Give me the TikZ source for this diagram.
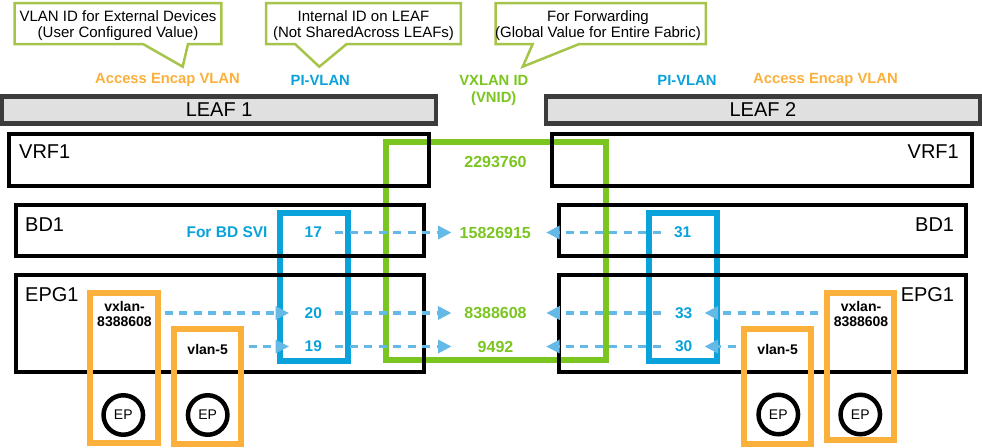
\documentclass[tikz,border=0pt]{standalone}
\usepackage{fontspec}
\setmainfont{Liberation Sans}
\usetikzlibrary{arrows.meta,calc}
\definecolor{cOrange}{HTML}{FBB03B}
\definecolor{cBlue}{HTML}{0AA2DA}
\definecolor{cGreen}{HTML}{7AC520}
\definecolor{cArrow}{HTML}{64B9E7}
\definecolor{cCall}{HTML}{A6C44A}
\definecolor{cLeafFill}{HTML}{E0E0E0}
\definecolor{cLeafLine}{HTML}{3C3C3C}
\newcommand\myfs[1]{\fontsize{#1pt}{#1pt}\selectfont}
\tikzset{
  leafbar/.style={draw=cLeafLine, fill=cLeafFill, line width=4.5pt, inner sep=0pt, font=\myfs{20}},
  blk/.style={draw=black, line width=4pt, inner sep=0pt},
  gbox/.style={draw=cGreen, line width=6pt, inner sep=0pt},
  bbox/.style={draw=cBlue, line width=6pt, inner sep=0pt},
  obox/.style={draw=cOrange, line width=6pt, inner sep=0pt},
  epnode/.style={circle, draw=black, line width=4.5pt, fill=white, minimum size=39.5pt, inner sep=0pt, font=\myfs{14}},
  callout/.style={draw=cCall, line width=2.5pt, fill=white, line join=miter},
  calltext/.style={align=center, font=\fontsize{15pt}{16.6pt}\selectfont, inner sep=0pt},
  toplab/.style={font=\bfseries\myfs{14.8}, inner sep=0pt},
  lbl/.style={font=\myfs{20}, inner sep=0pt},
  numB/.style={text=cBlue, font=\bfseries\myfs{15.5}, inner sep=0pt},
  numG/.style={text=cGreen, font=\bfseries\myfs{16}, inner sep=0pt},
  otext/.style={font=\bfseries\fontsize{14pt}{15pt}\selectfont, inner sep=0pt, align=center},
  arr/.style={draw=cArrow, line width=3.3pt, dash pattern=on 8pt off 6.5pt, -{Triangle[length=13.5pt 0 0,width=13pt 0 0]}}
}
\begin{document}
\begin{tikzpicture}[x=1pt,y=-1pt]
\useasboundingbox (0,0) rectangle (982,447);

% callouts
\draw[callout] (14.7,3) -- (221.3,3) -- (221.3,44) -- (188,44) -- (182.7,66.7) -- (143,44) -- (14.7,44) -- cycle;
\node[calltext, anchor=north] (c1) at (118,10.3) {VLAN ID for External Devices\\(User Configured Value)};
\draw[callout] (266.2,3) -- (460.8,3) -- (460.8,44) -- (346.7,44) -- (319.3,66.7) -- (295,44) -- (266.2,44) -- cycle;
\node[calltext, anchor=north] (c2) at (363.5,10.3) {Internal ID on LEAF\\(Not SharedAcross LEAFs)};
\draw[callout] (495.5,3) -- (705.8,3) -- (705.8,44) -- (579.3,44) -- (522.7,66.7) -- (532.7,44) -- (495.5,44) -- cycle;
\node[calltext, anchor=north] (c3) at (598,10.3) {For Forwarding\\(Global Value for Entire Fabric)};

% top labels
\node[toplab, text=cOrange] (aeL) at (167.5,80) {Access Encap VLAN};
\node[toplab, text=cBlue] (piLt) at (320.3,80) {PI-VLAN};
\node[toplab, text=cGreen, align=center, anchor=north, font=\bfseries\fontsize{14.8pt}{17.3pt}\selectfont] (vxt) at (493.8,74.7) {VXLAN ID\\(VNID)};
\node[toplab, text=cBlue] (piRt) at (687,80) {PI-VLAN};
\node[toplab, text=cOrange] (aeR) at (825.5,80) {Access Encap VLAN};

% leaf bars
\node[leafbar, minimum width=433.8pt, minimum height=26.8pt] (leaf1) at (219.1,110) {LEAF 1};
\node[leafbar, minimum width=433.75pt, minimum height=26.8pt] (leaf2) at (762.9,110) {LEAF 2};

% green and blue boxes
\node[gbox, minimum width=219.5pt, minimum height=218.5pt] (vx) at (495.75,250.75) {};
\node[bbox, minimum width=68.3pt, minimum height=147.2pt] (piL) at (313.85,286.9) {};
\node[bbox, minimum width=68pt, minimum height=147.2pt] (piR) at (682.75,286.9) {};

% black boxes
\node[blk, minimum width=420pt, minimum height=52pt] (vrfL) at (218.5,159.5) {};
\node[blk, minimum width=408pt, minimum height=51pt] (bdL) at (219.5,230) {};
\node[blk, minimum width=408pt, minimum height=97pt] (epgL) at (219.5,323) {};
\node[blk, minimum width=420pt, minimum height=52pt] (vrfR) at (761.5,159.5) {};
\node[blk, minimum width=407pt, minimum height=51pt] (bdR) at (762,230) {};
\node[blk, minimum width=407pt, minimum height=97pt] (epgR) at (762,323) {};

% orange boxes
\node[obox, minimum width=67.4pt, minimum height=150.6pt] (oL1) at (124,368) {};
\node[obox, minimum width=67.5pt, minimum height=115pt] (oL2) at (207.5,386.3) {};
\node[obox, minimum width=66.7pt, minimum height=115pt] (oR2) at (777.3,386.3) {};
\node[obox, minimum width=67pt, minimum height=147.6pt] (oR1) at (860.8,366.5) {};

% EP circles
\node[epnode] (epL1) at (123.3,415) {EP};
\node[epnode] (epL2) at (207.7,415) {EP};
\node[epnode] (epR2) at (778.3,414.5) {EP};
\node[epnode] (epR1) at (860.3,414.5) {EP};

% box labels
\node[lbl, anchor=west] (tVrfL) at (19,151.5) {VRF1};
\node[lbl, anchor=west] (tBdL) at (25,224.5) {BD1};
\node[lbl, anchor=west] (tEpgL) at (25,294.3) {EPG1};
\node[lbl, anchor=east] (tVrfR) at (959,151.5) {VRF1};
\node[lbl, anchor=east] (tBdR) at (954.3,225) {BD1};
\node[lbl, anchor=east] (tEpgR) at (954.3,294.3) {EPG1};

% orange texts
\node[otext] (vxL) at (124.5,314.2) {vxlan-\\8388608};
\node[otext] (vlL) at (207.7,349) {vlan-5};
\node[otext] (vlR) at (777.7,349) {vlan-5};
\node[otext] (vxR) at (861,314.2) {vxlan-\\8388608};

% numbers
\node[numB, anchor=east] (svi) at (267.7,232.5) {For BD SVI};
\node[numB] (nL17) at (313.3,232.5) {17};
\node[numB] (nL20) at (313.3,313) {20};
\node[numB] (nL19) at (313.3,346.5) {19};
\node[numB] (nR31) at (682.7,232.5) {31};
\node[numB] (nR33) at (683.7,313) {33};
\node[numB] (nR30) at (683.7,346.5) {30};
\node[numG] (vn1) at (495.5,161.7) {2293760};
\node[numG] (vn2) at (495.3,232.5) {15826915};
\node[numG] (vn3) at (495.5,313) {8388608};
\node[numG] (vn4) at (495.5,346.5) {9492};

% arrows left
\draw[arr] ($(nL17.east)+(13.1,0)$) -- ($(vn2.west)+(-8,0)$);
\draw[arr] ($(oL1.east |- nL20)+(4,0)$) -- ($(nL20.west)+(-15.4,0)$);
\draw[arr] ($(nL20.east)+(13.1,0)$) -- ($(vn3.west)+(-12.7,0)$);
\draw[arr] ($(oL2.east |- nL19)+(4.5,0)$) -- ($(nL19.west)+(-15.4,0)$);
\draw[arr] ($(nL19.east)+(13.1,0)$) -- ($(vn4.west)+(-26,0)$);
% arrows right
\draw[arr] ($(nR31.west)+(-13.1,0)$) -- ($(vn2.east)+(15.1,0)$);
\draw[arr] ($(oR1.west |- nR33)+(-6.3,0)$) -- ($(nR33.east)+(12,0)$);
\draw[arr] ($(nR33.west)+(-14.1,0)$) -- ($(vn3.east)+(19.4,0)$);
\draw[arr] ($(oR2.west |- nR30)+(-5,0)$) -- ($(nR30.east)+(12,0)$);
\draw[arr] ($(nR30.west)+(-14.1,0)$) -- ($(vn4.east)+(32.7,0)$);
\end{tikzpicture}
\end{document}
